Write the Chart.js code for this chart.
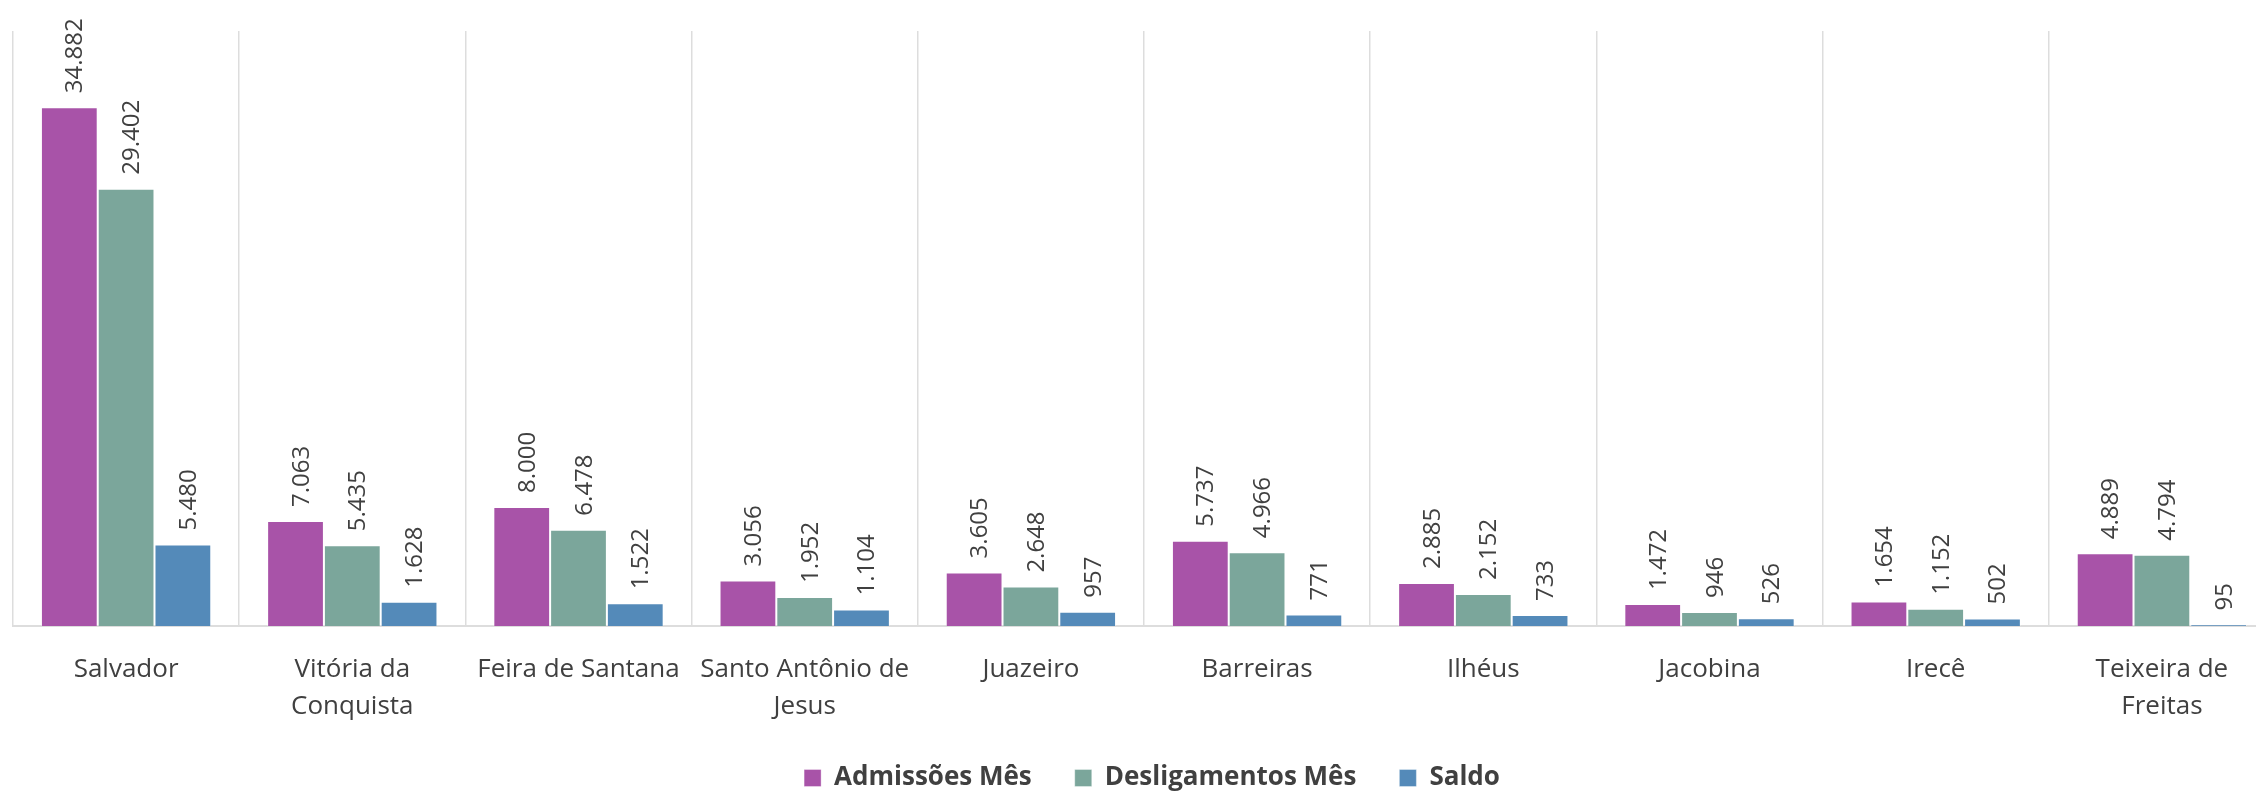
<!DOCTYPE html>
<html>
<head>
<meta charset="utf-8">
<script src="https://cdn.jsdelivr.net/npm/chart.js@4"></script>
<style>
  html, body { margin: 0; padding: 0; background: #fff; overflow: hidden; }
  #wrap { position: relative; width: 2300px; height: 795px; }
</style>
</head>
<body>
<div id="wrap"><canvas id="chart"></canvas></div>
<script>
const cities = [
  "Salvador",
  ["Vitória da", "Conquista"],
  "Feira de Santana",
  ["Santo Antônio de", "Jesus"],
  "Juazeiro",
  "Barreiras",
  "Ilhéus",
  "Jacobina",
  "Irecê",
  ["Teixeira de", "Freitas"]
];
const admissoes = [34882, 7063, 8000, 3056, 3605, 5737, 2885, 1472, 1654, 4889];
const desligamentos = [29402, 5435, 6478, 1952, 2648, 4966, 2152, 946, 1152, 4794];
const saldo = [5480, 1628, 1522, 1104, 957, 771, 733, 526, 502, 95];

function fmt(n) {
  return String(n).replace(/\B(?=(\d{3})+(?!\d))/g, ".");
}

// value labels, turned upright above each bar
const valueLabels = {
  id: "valueLabels",
  afterDatasetsDraw(chart) {
    const ctx = chart.ctx;
    ctx.save();
    ctx.font = "24px 'Open Sans'";
    ctx.fillStyle = "#404040";
    ctx.textAlign = "left";
    ctx.textBaseline = "alphabetic";
    chart.data.datasets.forEach((ds, i) => {
      chart.getDatasetMeta(i).data.forEach((bar, j) => {
        ctx.save();
        ctx.translate(bar.x + 13, bar.y - 14);
        ctx.rotate(-Math.PI / 2);
        ctx.fillText(fmt(ds.data[j]), 0, 0);
        ctx.restore();
      });
    });
    ctx.restore();
  }
};

// nudge the legend a bit to the right, like the original
const legendShift = {
  id: "legendShift",
  afterLayout(chart) {
    chart.legend.left += 8;
    chart.legend.right += 8;
  }
};

new Chart(document.getElementById("chart"), {
  type: "bar",
  data: {
    labels: cities,
    datasets: [
      { label: "Admissões Mês", data: admissoes, backgroundColor: "#A853A8" },
      { label: "Desligamentos Mês", data: desligamentos, backgroundColor: "#7BA69B" },
      { label: "Saldo", data: saldo, backgroundColor: "#548AB9" }
    ]
  },
  options: {
    responsive: true,
    maintainAspectRatio: false,
    animation: false,
    datasets: {
      bar: {
        categoryPercentage: 0.753,
        barPercentage: 1,
        borderWidth: 1,
        borderColor: "rgba(255,255,255,0.35)"
      }
    },
    layout: { padding: { left: 13, right: 25, top: 31, bottom: 0 } },
    scales: {
      x: {
        grid: { color: "#DDDDDD", lineWidth: 1.5, drawTicks: false, offset: true },
        border: { color: "#DDDDDD", width: 2 },
        ticks: {
          autoSkip: false,
          maxRotation: 0,
          minRotation: 0,
          padding: 25,
          color: "#404040",
          font: { family: "'Open Sans'", size: 26, lineHeight: 37 / 26 }
        },
        afterFit(scale) { scale.height = 96; }
      },
      y: { display: false, min: 0, max: 40000 }
    },
    plugins: {
      legend: {
        position: "bottom",
        maxHeight: 73,
        labels: {
          boxWidth: 17,
          boxHeight: 17,
          padding: 43,
          color: "#404040",
          font: { family: "'Open Sans'", size: 26, weight: "bold" }
        }
      },
      tooltip: { enabled: false }
    }
  },
  plugins: [valueLabels, legendShift]
});
</script>
</body>
</html>
